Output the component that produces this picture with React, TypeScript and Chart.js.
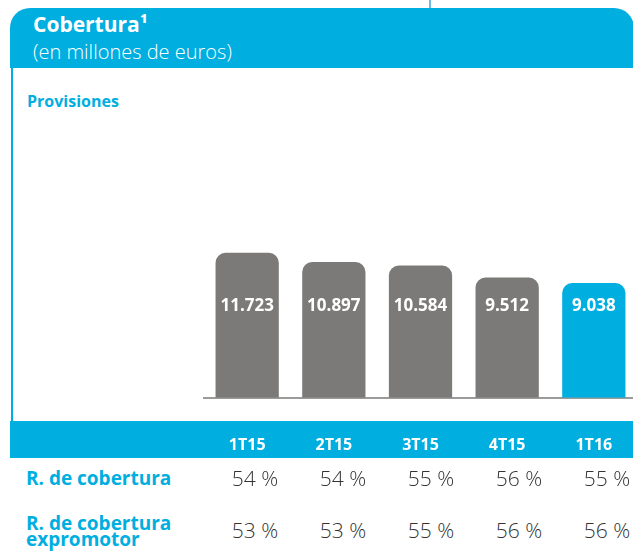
import React, { useEffect, useRef } from "react";
import { Chart, registerables } from "chart.js";

Chart.register(...registerables);

const categories = ["1T15", "2T15", "3T15", "4T15", "1T16"];
const provisiones = [11723, 10897, 10584, 9512, 9038];
const ratioCobertura = [54, 54, 55, 56, 55];
const ratioExpromotor = [53, 53, 55, 56, 56];
const barColors = ["#7b7a78", "#7b7a78", "#7b7a78", "#7b7a78", "#00aee0"];
const yMin = -1170;
const yMax = 24500;

const BLUE = "#00aee0";
const FONT = '"Open Sans", "Noto Sans", sans-serif';

function fmt(v: number): string {
  return String(v).replace(/\B(?=(\d{3})+(?!\d))/g, ".");
}

const valueLabels = {
  id: "valueLabels",
  afterDatasetsDraw(chart: any) {
    const { ctx, chartArea } = chart;
    const meta = chart.getDatasetMeta(0);
    ctx.save();
    ctx.fillStyle = "#ffffff";
    ctx.font = `bold 17px ${FONT}`;
    ctx.textAlign = "center";
    ctx.textBaseline = "alphabetic";
    meta.data.forEach((bar: any, i: number) => {
      ctx.fillText(fmt(provisiones[i]), bar.x, chartArea.bottom - 87);
    });
    ctx.restore();
  },
};

function abs(style: React.CSSProperties): React.CSSProperties {
  return { position: "absolute", ...style };
}

export default function App() {
  const ref = useRef<HTMLCanvasElement | null>(null);

  useEffect(() => {
    if (!ref.current) return;
    const chart = new Chart(ref.current, {
      type: "bar",
      data: {
        labels: categories,
        datasets: [
          {
            data: provisiones,
            backgroundColor: barColors,
            base: yMin,
            borderRadius: 10,
            borderSkipped: "start",
            categoryPercentage: 1,
            barPercentage: 0.73,
          },
        ],
      },
      options: {
        responsive: false,
        animation: false,
        layout: { padding: { top: 9, left: 0, right: 0, bottom: 0 } },
        plugins: { legend: { display: false }, tooltip: { enabled: false } },
        scales: {
          x: {
            grid: { display: false, drawTicks: false },
            border: { display: true, color: "#9b9b9b", width: 2 },
            ticks: {
              color: "#ffffff",
              font: { family: FONT, size: 16, weight: "bold" },
              padding: 38,
            },
          },
          y: { display: false, min: yMin, max: yMax },
        },
      },
      plugins: [valueLabels],
    } as any);
    return () => chart.destroy();
  }, []);

  const labelStyle: React.CSSProperties = {
    color: BLUE,
    fontFamily: FONT,
    fontWeight: 700,
    fontSize: 19,
    whiteSpace: "nowrap",
  };
  const pctStyle: React.CSSProperties = {
    color: "#333333",
    fontFamily: FONT,
    fontWeight: 300,
    fontSize: 21,
    lineHeight: "24px",
    width: 88,
    textAlign: "center",
    whiteSpace: "nowrap",
  };

  return (
    <div
      style={abs({
        left: 0,
        top: 0,
        width: 633,
        height: 557,
        overflow: "hidden",
        background: "#ffffff",
      })}
    >
      <div style={abs({ left: 429, top: 0, width: 2, height: 9, background: "#6cbbe0" })} />
      <div
        style={abs({
          left: 10,
          top: 8,
          width: 624,
          height: 60,
          background: BLUE,
          borderRadius: "20px 20px 0 0",
        })}
      />
      <div style={abs({ left: 11, top: 68, width: 2, height: 353, background: BLUE })} />
      <div style={abs({ left: 10, top: 421, width: 640, height: 37, background: BLUE })} />

      <div
        style={abs({
          left: 33,
          top: 12,
          color: "#ffffff",
          fontFamily: FONT,
          fontWeight: 700,
          fontSize: 21,
          lineHeight: "25px",
          whiteSpace: "nowrap",
        })}
      >
        Cobertura¹
      </div>
      <div
        style={abs({
          left: 33,
          top: 40,
          color: "#ffffff",
          fontFamily: FONT,
          fontWeight: 300,
          fontSize: 20,
          lineHeight: "24px",
          whiteSpace: "nowrap",
        })}
      >
        (en millones de euros)
      </div>
      <div
        style={abs({
          left: 27,
          top: 91,
          color: BLUE,
          fontFamily: FONT,
          fontWeight: 700,
          fontSize: 16,
          lineHeight: "20px",
          whiteSpace: "nowrap",
        })}
      >
        Provisiones
      </div>

      <canvas
        ref={ref}
        width={457}
        height={393}
        style={abs({ left: 192, top: 100, width: 457, height: 393, display: "block" })}
      />

      <div style={abs({ left: 26, top: 467, lineHeight: "23px", ...labelStyle })}>R. de cobertura</div>
      <div style={abs({ left: 26, top: 515, lineHeight: "16px", ...labelStyle })}>
        R. de cobertura
        <br />
        expromotor
      </div>

      {ratioCobertura.map((v, i) => (
        <div key={"a" + i} style={abs({ left: 211 + i * 88, top: 466, ...pctStyle })}>
          {v} %
        </div>
      ))}
      {ratioExpromotor.map((v, i) => (
        <div key={"b" + i} style={abs({ left: 211 + i * 88, top: 518, ...pctStyle })}>
          {v} %
        </div>
      ))}
    </div>
  );
}
